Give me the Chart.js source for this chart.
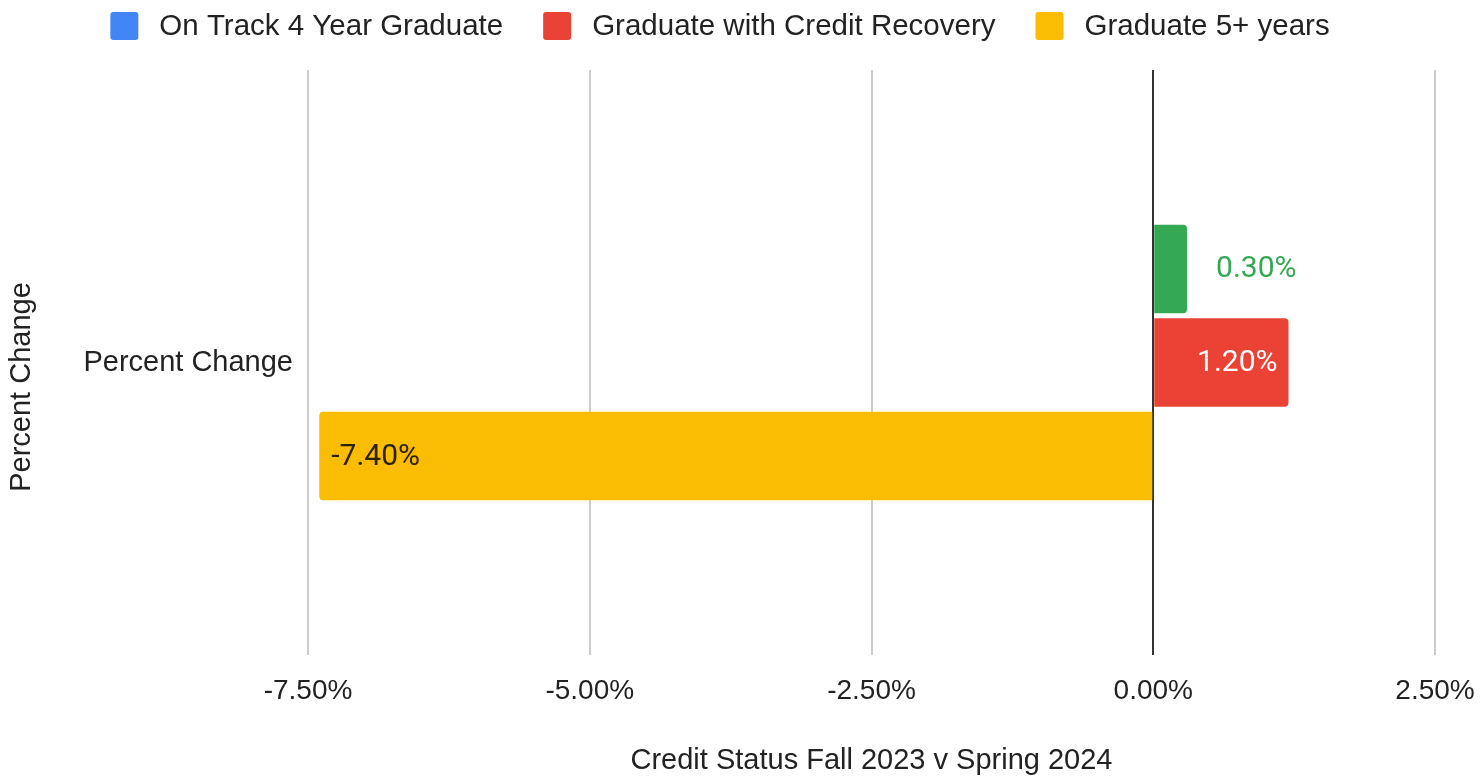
<!DOCTYPE html>
<html>
<head>
<meta charset="utf-8">
<script src="https://cdn.jsdelivr.net/npm/chart.js@4"></script>
<style>
  html, body { margin: 0; padding: 0; background: #fff; }
  #wrap { width: 1480px; height: 778px; position: relative; }
</style>
</head>
<body>
<div id="wrap"><canvas id="myChart" width="1480" height="778"></canvas></div>
<script>
/*
*Chart data
*/
const categories = ['Percent Change'];
const seriesNames = ['On Track 4 Year Graduate', 'Graduate with Credit Recovery', 'Graduate 5+ years'];
const onTrackValues = [0.3];
const creditRecoveryValues = [1.2];
const fivePlusValues = [-7.4];
const xTicks = [-7.5, -5, -2.5, 0, 2.5];
const yTitle = 'Percent Change';

const colors = {
    BLUE: '#4285f4',
    GREEN: '#34a853',
    RED: '#ea4335',
    YELLOW: '#fbbc04',
    TEXT: '#222222'
}
const legendColors = [colors.BLUE, colors.RED, colors.YELLOW];

function pct(v){
    return v.toFixed(2) + '%';
}

/*
*Legend drawn at the top (boxes + names) and the vertical axis title
*/
const topLegend = {
    id: 'topLegend',
    afterDraw(chart){
        const ctx = chart.ctx;
        const box = 28, gapText = 21, gapItem = 40, cy = 26, centerX = 720;
        ctx.save();
        ctx.font = '29.5px "Liberation Sans", Arial, sans-serif';
        ctx.textBaseline = 'middle';
        const widths = seriesNames.map(n => ctx.measureText(n).width);
        let total = gapItem * (seriesNames.length - 1);
        widths.forEach(w => total += box + gapText + w);
        let x = centerX - total / 2;
        for (let i = 0; i < seriesNames.length; i++) {
            ctx.fillStyle = legendColors[i];
            ctx.beginPath();
            ctx.roundRect(x, cy - box / 2, box, box, 3);
            ctx.fill();
            ctx.fillStyle = colors.TEXT;
            ctx.textAlign = 'left';
            ctx.fillText(seriesNames[i], x + box + gapText, cy + 1);
            x += box + gapText + widths[i] + gapItem;
        }
        // y axis title, a bit below the middle like the original
        ctx.font = '29px "Liberation Sans", Arial, sans-serif';
        ctx.translate(22, 387);
        ctx.rotate(-Math.PI / 2);
        ctx.textAlign = 'center';
        ctx.fillText(yTitle, 0, 0);
        ctx.restore();
    }
};

/*
*Value labels on the bars
*/
const barLabels = {
    id: 'barLabels',
    afterDatasetsDraw(chart){
        const ctx = chart.ctx;
        ctx.save();
        ctx.font = '30px Roboto, sans-serif';
        ctx.textBaseline = 'middle';
        chart.data.datasets.forEach((ds, i) => {
            const meta = chart.getDatasetMeta(i);
            meta.data.forEach((bar, j) => {
                const v = ds.data[j];
                const txt = pct(v);
                if (i === 0) {          // outside, after the end
                    ctx.fillStyle = colors.GREEN;
                    ctx.textAlign = 'left';
                    ctx.fillText(txt, bar.x + 29, bar.y + 1);
                } else if (i === 1) {   // inside, at the end
                    ctx.fillStyle = '#ffffff';
                    ctx.textAlign = 'right';
                    ctx.fillText(txt, bar.x - 11, bar.y + 1);
                } else {                // inside, at the end of a negative bar
                    ctx.fillStyle = '#2b2200';
                    ctx.textAlign = 'left';
                    ctx.fillText(txt, bar.x + 12, bar.y + 1);
                }
            });
        });
        ctx.restore();
    }
};

function drawGraphic(){
    const ctx = document.getElementById('myChart').getContext('2d');
    const tickFont = { family: '"Liberation Sans", Arial, sans-serif', size: 28 };
    const titleFont = { family: '"Liberation Sans", Arial, sans-serif', size: 29 };
    new Chart(ctx, {
        type: 'bar',
        data: {
            labels: categories,
            datasets: [
                { label: seriesNames[0], data: onTrackValues, backgroundColor: colors.GREEN },
                { label: seriesNames[1], data: creditRecoveryValues, backgroundColor: colors.RED },
                { label: seriesNames[2], data: fivePlusValues, backgroundColor: colors.YELLOW }
            ]
        },
        options: {
            indexAxis: 'y',
            responsive: false,
            animation: false,
            layout: { padding: { top: 70, right: 45, left: 0, bottom: 0 } },
            datasets: {
                bar: {
                    categoryPercentage: 0.48,
                    barPercentage: 0.945,
                    borderRadius: 4,
                    borderSkipped: 'start'
                }
            },
            plugins: {
                legend: { display: false },
                tooltip: { enabled: false }
            },
            scales: {
                x: {
                    min: xTicks[0],
                    max: xTicks[xTicks.length - 1],
                    afterBuildTicks: (scale) => { scale.ticks = xTicks.map(v => ({ value: v })); },
                    afterFit: (scale) => {
                        scale.height = 123;
                        scale.paddingLeft = 0;
                        scale.paddingRight = 0;
                    },
                    border: { display: false },
                    grid: {
                        drawTicks: false,
                        lineWidth: 2,
                        color: (c) => (c.tick && c.tick.value === 0) ? '#333333' : '#cccccc'
                    },
                    ticks: {
                        padding: 19,
                        color: colors.TEXT,
                        font: tickFont,
                        callback: (v) => pct(v)
                    },
                    title: {
                        display: true,
                        text: 'Credit Status Fall 2023 v Spring 2024',
                        color: colors.TEXT,
                        font: titleFont,
                        padding: { top: 4, bottom: 0 }
                    }
                },
                y: {
                    afterFit: (scale) => { scale.width = 308; },
                    border: { display: false },
                    grid: { display: false, drawTicks: false },
                    ticks: { padding: 15, color: colors.TEXT, font: titleFont },
                    title: { display: false }
                }
            }
        },
        plugins: [topLegend, barLabels]
    });
}

drawGraphic();
</script>
</body>
</html>
